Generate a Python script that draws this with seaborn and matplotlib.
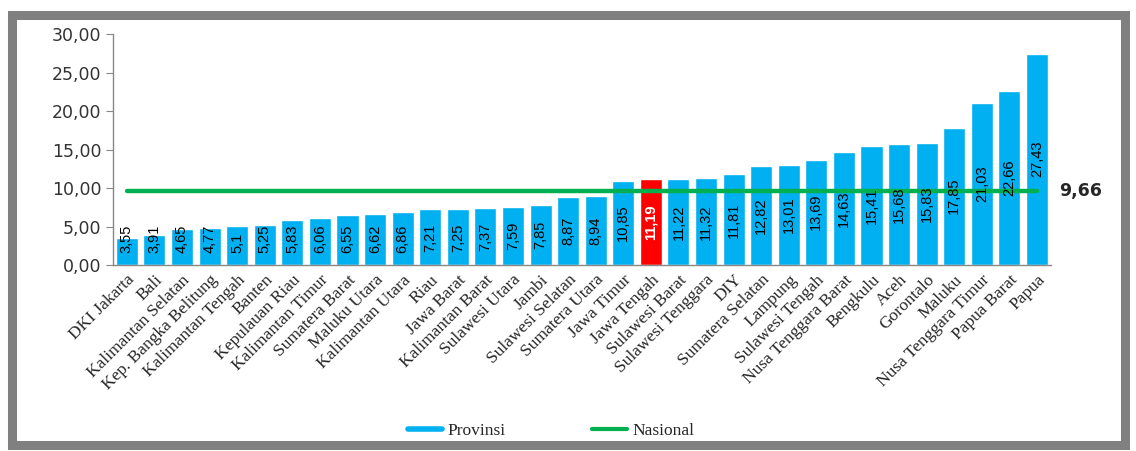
import numpy as np
import pandas as pd
import matplotlib
matplotlib.use("Agg")
import matplotlib.pyplot as plt
from matplotlib.lines import Line2D
from matplotlib.patches import Rectangle
from matplotlib.ticker import FuncFormatter, FixedLocator
import seaborn as sns

# ─────────────────────────────────────────────
# DATA
# ─────────────────────────────────────────────
provinsi = [
    "DKI Jakarta", "Bali", "Kalimantan Selatan", "Kep. Bangka Belitung",
    "Kalimantan Tengah", "Banten", "Kepulauan Riau", "Kalimantan Timur",
    "Sumatera Barat", "Maluku Utara", "Kalimantan Utara", "Riau",
    "Jawa Barat", "Kalimantan Barat", "Sulawesi Utara", "Jambi",
    "Sulawesi Selatan", "Sumatera Utara", "Jawa Timur", "Jawa Tengah",
    "Sulawesi Barat", "Sulawesi Tenggara", "DIY", "Sumatera Selatan",
    "Lampung", "Sulawesi Tengah", "Nusa Tenggara Barat", "Bengkulu",
    "Aceh", "Gorontalo", "Maluku", "Nusa Tenggara Timur", "Papua Barat", "Papua",
]
nilai = [
    3.55, 3.91, 4.65, 4.77, 5.1, 5.25, 5.83, 6.06, 6.55, 6.62, 6.86, 7.21,
    7.25, 7.37, 7.59, 7.85, 8.87, 8.94, 10.85, 11.19, 11.22, 11.32, 11.81,
    12.82, 13.01, 13.69, 14.63, 15.41, 15.68, 15.83, 17.85, 21.03, 22.66, 27.43,
]
label_nilai = [
    "3,55", "3,91", "4,65", "4,77", "5,1", "5,25", "5,83", "6,06", "6,55",
    "6,62", "6,86", "7,21", "7,25", "7,37", "7,59", "7,85", "8,87", "8,94",
    "10,85", "11,19", "11,22", "11,32", "11,81", "12,82", "13,01", "13,69",
    "14,63", "15,41", "15,68", "15,83", "17,85", "21,03", "22,66", "27,43",
]
nasional = 9.66
highlight = "Jawa Tengah"

BLUE = "#00B0F0"
RED = "#FF0000"
GREEN = "#00B050"

df = pd.DataFrame({"provinsi": provinsi, "nilai": nilai})
df["grup"] = np.where(df["provinsi"] == highlight, "hl", "normal")

# ─────────────────────────────────────────────
# PLOT
# ─────────────────────────────────────────────
sns.set_style("white")
plt.rcParams["font.family"] = ["DejaVu Sans"]

fig = plt.figure(figsize=(11.36, 4.51), dpi=100)
ax = fig.add_axes([0.0995, 0.4124, 0.8255, 0.5122])

sns.barplot(data=df, x="provinsi", y="nilai", hue="grup",
            palette={"normal": BLUE, "hl": RED}, width=0.8,
            dodge=False, legend=False, saturation=1, ax=ax)

# national line
x_pos = np.arange(len(provinsi))
sns.lineplot(x=x_pos, y=[nasional] * len(provinsi), color=GREEN,
             linewidth=3.2, ax=ax)

# value labels inside bars (centred, pushed up when the bar is too short)
for i, (v, lab) in enumerate(zip(nilai, label_nilai)):
    is_hl = provinsi[i] == highlight
    half = len(lab) * 0.47
    y0 = max(v / 2 - half, 1.5)
    ax.text(i, y0, lab, rotation=90, ha="center", va="bottom",
            fontsize=10.5, family="Liberation Sans",
            color="white" if is_hl else "black",
            fontweight="bold" if is_hl else "normal")

ax.text(len(provinsi) - 0.5 + 0.3, nasional, "9,66", ha="left", va="center",
        fontsize=12.5, fontweight="bold", family="DejaVu Sans")

ax.set_xlim(-0.5, len(provinsi) - 0.5)
ax.set_ylim(0, 30)
ax.set_yticks(np.arange(0, 31, 5))
ax.yaxis.set_major_formatter(FuncFormatter(lambda v, p: f"{v:.2f}".replace(".", ",")))
ax.set_xlabel("")
ax.set_ylabel("")

ax.set_xticks(x_pos)
ax.set_xticklabels(provinsi, rotation=45, ha="right", rotation_mode="anchor",
                   family="Liberation Serif", fontsize=12.5)
ax.tick_params(axis="x", which="major", length=0, pad=5)
ax.xaxis.set_minor_locator(FixedLocator(np.arange(-0.5, len(provinsi), 1)))
ax.tick_params(axis="x", which="minor", length=4, color="#888888", width=1)
ax.tick_params(axis="y", length=5, color="#888888", labelsize=12.5,
               labelcolor="#333333", left=True)

sns.despine(ax=ax, top=True, right=True)
for s in ["left", "bottom"]:
    ax.spines[s].set_color("#888888")
    ax.spines[s].set_linewidth(1)

# legend at the bottom
handles = [Line2D([0], [0], color=BLUE, lw=4),
           Line2D([0], [0], color=GREEN, lw=3)]
fig.legend(handles, ["Provinsi", "Nasional"], loc="center",
           bbox_to_anchor=(0.485, 0.045), ncol=2, frameon=False,
           prop={"family": "Liberation Serif", "size": 12.5},
           handlelength=2.0, handletextpad=0.3, columnspacing=5.0)

# gray frame around the figure
fig.patches.append(Rectangle((11.5 / 1136, 6 / 451), 1113 / 1136, 430 / 451,
                             transform=fig.transFigure, fill=False,
                             edgecolor="#808080", linewidth=6.5, zorder=10))

fig.savefig("out.png", dpi=100)
